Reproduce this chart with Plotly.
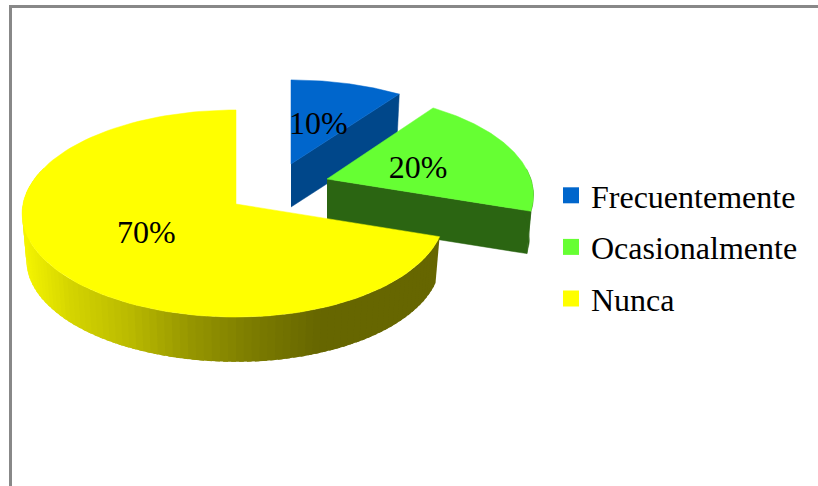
import numpy as np
import plotly.graph_objects as go

categories = ["Frecuentemente", "Ocasionalmente", "Nunca"]
values = [10, 20, 70]
tick_labels = ["10%", "20%", "70%"]

top_colors = ["#0066CC", "#66FF33", "#FFFF00"]
side_colors = ["#00478A", "#2B6512", "#666600"]
apex = [(291, 164), (327, 179), (236, 204)]
depths = [43, 43, 47]
scale_x = [1.0, 0.98, 1.0]
scale_y = [0.95, 0.966, 1.0]
persp = [0.16, 0.16, 0.0918]
label_r = [0.42, 0.46, 0.50]
label_nudge = [(2, -1), (4, 5), (-1, 0)]

RX_RIGHT, RX_LEFT, RY, BOTTOM = 208, 213, 102.7, 0.98
ends = np.cumsum(values) / np.sum(values) * 360
starts = np.concatenate([[0], ends[:-1]])


def project(i, theta, r=1.0, s=1.0, drop=0.0):
    c = apex[i]
    t = np.radians(theta)
    u, v = np.sin(t) * r, -np.cos(t) * r
    w = 1 / (1 - persp[i] * v)
    rx = np.where(u < 0, RX_LEFT, RX_RIGHT)
    return (c[0] + s * scale_x[i] * rx * u * w,
            c[1] + drop + s * scale_y[i] * RY * v * w)


def poly(x, y, color, width=0.5):
    return go.Scatter(
        x=[float(p) for p in x], y=[float(p) for p in y], mode="lines",
        fill="toself", fillcolor=color,
        line=dict(color=color, width=width), hoverinfo="skip", showlegend=False,
    )


def yellow_shade(px):
    g = np.interp(px, [22, 70, 130, 190, 250, 320, 440],
                  [245, 212, 185, 150, 125, 102, 102])
    g = int(round(float(g)))
    return f"rgb({g},{g},0)"


def side_face(i, th):
    x0, y0 = project(i, th)
    x1, y1 = project(i, th[::-1], s=BOTTOM, drop=depths[i])
    return [*x0, *x1], [*y0, *y1]


fig = go.Figure()

for i in range(3):
    c, d = apex[i], depths[i]
    a, b = starts[i], ends[i]

    if i < 2:
        # radial cut facing the viewer
        x0, y0 = project(i, np.array([b]))
        x1, y1 = project(i, np.array([b]), s=BOTTOM, drop=d)
        fig.add_trace(poly([c[0], x0[0], x1[0], c[0]],
                           [c[1], y0[0], y1[0], c[1] + d], side_colors[i]))
    if i == 1:
        # small piece of the rim at the right
        x, y = side_face(i, np.linspace(84, b, 14))
        fig.add_trace(poly(x, y, side_colors[i]))
    if i == 2:
        step = 2.0
        for t0 in np.arange(a, 290, step):
            # each strip runs under the next one, so no seam shows
            x, y = side_face(i, np.array([t0, t0 + step * 1.6]))
            mid, _ = project(i, np.array([t0 + step / 2]))
            fig.add_trace(poly(x, y, yellow_shade(mid[0]), width=0))

    x, y = project(i, np.linspace(a, b, 120))
    fig.add_trace(poly([c[0], *x, c[0]], [c[1], *y, c[1]], top_colors[i]))

for i in range(3):
    mid = (starts[i] + ends[i]) / 2
    lx, ly = project(i, np.array([mid]), r=label_r[i])
    fig.add_trace(go.Scatter(
        x=[float(lx[0]) + label_nudge[i][0]], y=[float(ly[0]) + label_nudge[i][1]],
        mode="text", text=[tick_labels[i]],
        textposition="middle center",
        textfont=dict(family="Liberation Serif", size=32, color="black"),
        hoverinfo="skip", showlegend=False,
    ))

for i, name in enumerate(categories):
    fig.add_trace(go.Scatter(
        x=[None], y=[None], mode="markers", name=name, legendgroup=name,
        marker=dict(symbol="square", size=16, color=top_colors[i]),
    ))

fig.update_layout(
    width=818, height=486, margin=dict(l=0, r=0, t=0, b=0),
    paper_bgcolor="white", plot_bgcolor="white",
    xaxis=dict(range=[0, 818], visible=False, fixedrange=True),
    yaxis=dict(range=[486, 0], visible=False, fixedrange=True),
    legend=dict(
        x=551 / 818, y=1 - 168 / 486, xanchor="left", yanchor="top",
        font=dict(family="Liberation Serif", size=32, color="black"),
        traceorder="grouped", tracegroupgap=7, bgcolor="rgba(0,0,0,0)",
        borderwidth=0,
    ),
    shapes=[
        dict(type="line", x0=9, x1=818, y0=6.5, y1=6.5, xref="x", yref="y",
             line=dict(color="#888888", width=3)),
        dict(type="line", x0=10.5, x1=10.5, y0=5, y1=486, xref="x", yref="y",
             line=dict(color="#888888", width=3)),
    ],
)

fig.write_html("out.html", config={"displayModeBar": False},
               post_script="document.body.style.margin='0';")
